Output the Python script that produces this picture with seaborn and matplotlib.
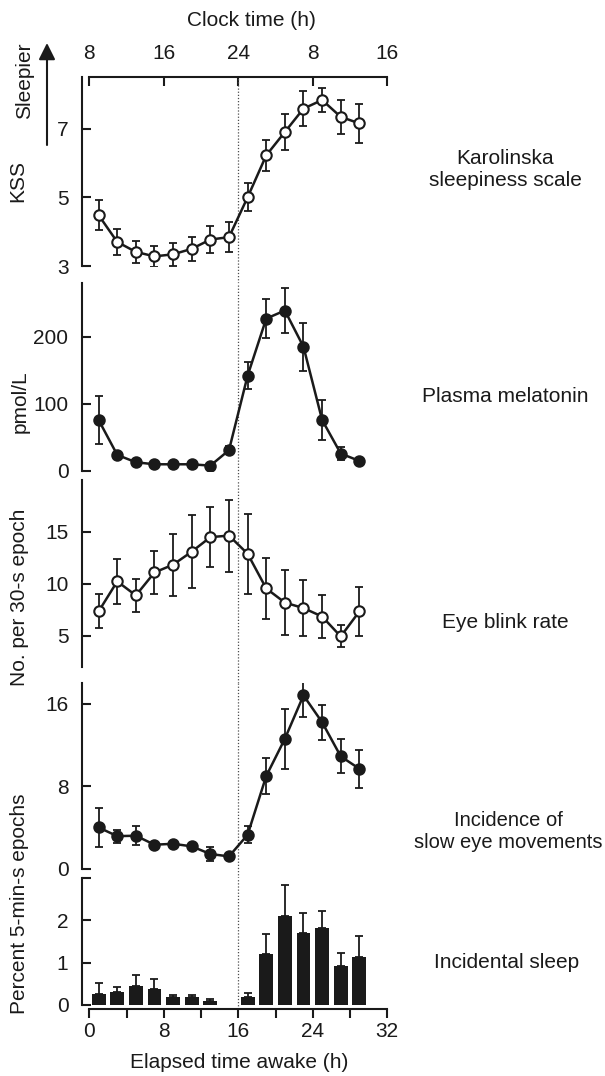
import matplotlib
matplotlib.use("Agg")
import matplotlib.pyplot as plt
import numpy as np
import seaborn as sns

# elapsed time awake (h) at each 2-h sample
hours = [1, 3, 5, 7, 9, 11, 13, 15, 17, 19, 21, 23, 25, 27, 29]

kss = [4.48, 3.70, 3.41, 3.28, 3.34, 3.50, 3.77, 3.84, 5.00, 6.22, 6.90, 7.58, 7.83, 7.34, 7.15]
kss_err = [0.43, 0.38, 0.32, 0.30, 0.33, 0.34, 0.39, 0.44, 0.41, 0.45, 0.53, 0.52, 0.36, 0.50, 0.57]

melatonin = [76, 24, 13, 10, 10, 10, 8, 31, 142, 227, 239, 185, 76, 26, 15]
melatonin_err = [36, 5, 3, 3, 3, 3, 3, 6, 20, 29, 33, 36, 30, 10, 2]

blink = [7.35, 10.24, 8.89, 11.1, 11.85, 13.1, 14.5, 14.65, 12.9, 9.56, 8.2, 7.67, 6.86, 4.94, 7.35]
blink_err = [1.64, 2.14, 1.59, 2.09, 2.97, 3.5, 2.86, 3.47, 3.87, 2.94, 3.12, 2.73, 2.06, 1.06, 2.33]

sem = [4.02, 3.18, 3.22, 2.35, 2.44, 2.19, 1.45, 1.22, 3.31, 9.0, 12.6, 16.8, 14.2, 10.9, 9.7]
sem_err = [1.85, 0.63, 0.92, 0.3, 0.3, 0.3, 0.7, 0.3, 0.84, 1.78, 2.88, 2.09, 1.69, 1.64, 1.82]

sleep_hours = [1, 3, 5, 7, 9, 11, 13, 17, 19, 21, 23, 25, 27, 29]
sleep_pct = [0.26, 0.30, 0.46, 0.38, 0.18, 0.18, 0.10, 0.18, 1.21, 2.10, 1.69, 1.83, 0.91, 1.13]
sleep_err = [0.25, 0.13, 0.25, 0.23, 0.06, 0.06, 0.04, 0.10, 0.46, 0.74, 0.49, 0.38, 0.32, 0.49]

elapsed_ticks = [0, 8, 16, 24, 32]
clock_labels = ['8', '16', '24', '8', '16']

sns.set_theme(style='ticks', rc={'axes.edgecolor': 'k', 'xtick.color': 'k',
                                 'ytick.color': 'k', 'text.color': 'k'})
plt.rcParams['font.family'] = ['Liberation Sans', 'DejaVu Sans']

W, H = 605, 1076
fig = plt.figure(figsize=(W / 100, H / 100), dpi=100)

# panel layout in pixels: (top, bottom)
x_left, x_right = 89.3, 387.3
panels = [(77, 266), (283, 471), (480, 667), (683, 869), (878, 1005)]
axes = [fig.add_axes([x_left / W, 1 - b / H, (x_right - x_left) / W, (b - t) / H])
        for t, b in panels]
ax1, ax2, ax3, ax4, ax5 = axes

FS = 15


def line_panel(ax, y, err, face):
    ax.errorbar(hours, y, yerr=err, fmt='none', ecolor='k', elinewidth=1.3,
                capsize=2.8, capthick=1.3, zorder=2)
    sns.lineplot(x=hours, y=y, ax=ax, color='k', linewidth=1.8, marker='o',
                 markersize=7.5, markerfacecolor=face, markeredgecolor='k',
                 markeredgewidth=1.5, errorbar=None, zorder=3)


line_panel(ax1, kss, kss_err, 'white')
line_panel(ax2, melatonin, melatonin_err, 'k')
line_panel(ax3, blink, blink_err, 'white')
line_panel(ax4, sem, sem_err, 'k')

sns.barplot(x=sleep_hours, y=sleep_pct, ax=ax5, native_scale=True, color='k',
            saturation=1, width=0.75, errorbar=None, linewidth=0)
ax5.errorbar(sleep_hours, sleep_pct, yerr=[np.zeros(len(sleep_err)), sleep_err],
             fmt='none', ecolor='k', elinewidth=1.3, capsize=2.8, capthick=1.3)

for ax in axes:
    ax.set_xlim(0, 32)
    ax.set_xlabel('')
    ax.set_ylabel('')
    for s in ['top', 'right', 'bottom']:
        ax.spines[s].set_visible(False)
    ax.spines['left'].set_position(('outward', 5))
    ax.spines['left'].set_linewidth(1.5)
    ax.tick_params(axis='y', direction='in', length=6.5, width=1.5, pad=10, labelsize=FS)
    ax.tick_params(axis='x', which='both', bottom=False, labelbottom=False)

ax1.set_ylim(3, 8.5)
ax1.set_yticks([3, 5, 7])
ax2.set_ylim(0, 280)
ax2.set_yticks([0, 100, 200])
ax3.set_ylim(2, 20)
ax3.set_yticks([5, 10, 15])
ax4.set_ylim(0, 18)
ax4.set_yticks([0, 8, 16])
ax5.set_ylim(0, 3)
ax5.set_yticks([0, 1, 2, 3], ['0', '1', '2', ''])

# clock time axis on top
ax1.spines['top'].set_visible(True)
ax1.spines['top'].set_linewidth(1.5)
ax1.xaxis.set_ticks_position('top')
ax1.set_xticks(elapsed_ticks, clock_labels)
ax1.tick_params(axis='x', top=True, labeltop=True, direction='in', length=6.5,
                width=1.5, pad=10, labelsize=FS)

# elapsed time axis at the bottom
ax5.spines['bottom'].set_visible(True)
ax5.spines['bottom'].set_linewidth(1.5)
ax5.spines['bottom'].set_position(('outward', 3))
ax5.set_xticks(elapsed_ticks)
ax5.set_xticks(range(0, 33, 4), minor=True)
ax5.tick_params(axis='x', which='both', bottom=True, labelbottom=True, direction='out',
                length=6.5, width=1.5, pad=3, labelsize=FS)

# dotted line at 16 h awake running through all panels
gaps = [panels[i + 1][0] - panels[i][1] for i in range(4)] + [4]
for ax, (t, b), g in zip(axes, panels, gaps):
    ax.axvline(16, ymin=-g / (b - t), ymax=1, color='0.3', lw=0.9,
               ls=(0, (1, 1.5)), clip_on=False, zorder=1)


def ftext(x, y, s, **kw):
    kw.setdefault('fontsize', FS)
    fig.text(x / W, 1 - y / H, s, ha='center', va='center', **kw)


ftext(251, 20, 'Clock time (h)')
ftext(239, 1062, 'Elapsed time awake (h)')
ftext(25, 81, 'Sleepier', rotation=90)
ftext(18, 181, 'KSS', rotation=90)
ftext(20, 402, 'pmol/L', rotation=90)
ftext(20, 597, 'No. per 30-s epoch', rotation=90)
ftext(20, 904, 'Percent 5-min-s epochs', rotation=90)

ftext(505, 170, 'Karolinska\nsleepiness scale')
ftext(505, 397, 'Plasma melatonin')
ftext(505, 623, 'Eye blink rate')
ftext(508, 831, 'Incidence of\nslow eye movements', fontsize=14.5)
ftext(507, 962, 'Incidental sleep')

ax1.annotate('', xy=(47 / W, 1 - 43 / H), xytext=(47 / W, 1 - 145 / H),
             xycoords='figure fraction', textcoords='figure fraction',
             arrowprops=dict(arrowstyle='-|>,head_length=0.5,head_width=0.25',
                             color='k', lw=1.5, shrinkA=0, shrinkB=0,
                             mutation_scale=20))

fig.savefig('out.png', dpi=100)
